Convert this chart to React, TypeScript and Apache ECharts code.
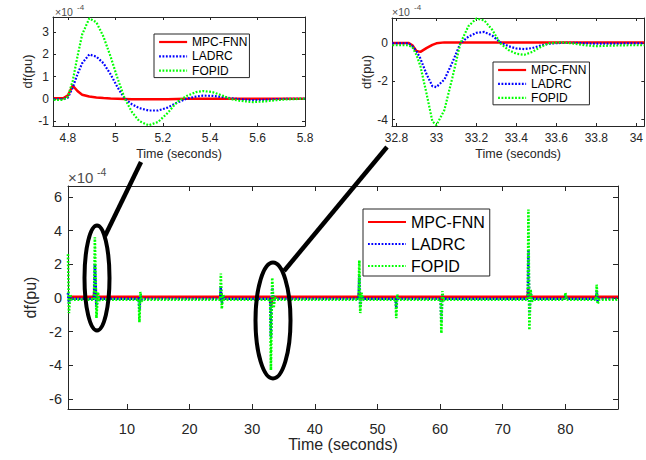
import React, { useEffect, useRef } from 'react';
import * as echarts from 'echarts';

// ---------- data (values in units of 1e-4 pu) ----------
const seriesNames = ['MPC-FNN', 'LADRC', 'FOPID'];
const xAxisTitle = 'Time (seconds)';
const yAxisTitle = 'df(pu)';
const scaleLabel = '×10';
const scaleExp = '-4';

// main plot: whole run
const mainTime = [
  0.6, 0.75, 0.95, 1.2,
  4.75, 4.89, 5.14, 5.37, 5.58, 5.8,
  11.9, 12.0, 12.15, 12.35, 12.6,
  24.9, 25.0, 25.15, 25.35, 25.6,
  32.87, 32.99, 33.2, 33.43, 33.63, 33.9,
  47.0, 47.1, 47.25, 47.45, 47.7,
  52.9, 53.0, 53.15, 53.4,
  60.1, 60.2, 60.35, 60.55, 60.8,
  74.0, 74.1, 74.25, 74.45, 74.65, 74.9,
  79.9, 80.0, 80.2,
  84.9, 85.0, 85.15, 85.4,
  88.4,
];
const mainMpcFnn = [
  0.05, 0.05, 0.05, 0.05,
  0.05, 0.6, 0.0, 0.05, 0.05, 0.05,
  0.05, -0.1, 0.05, 0.05, 0.05,
  0.05, 0.3, 0.0, 0.05, 0.05,
  0.05, -0.45, 0.05, 0.05, 0.05, 0.05,
  0.05, 0.3, 0.0, 0.05, 0.05,
  0.05, -0.1, 0.05, 0.05,
  0.05, -0.2, 0.05, 0.05, 0.05,
  0.05, 0.5, 0.0, 0.05, 0.05, 0.05,
  0.05, 0.05, 0.05,
  0.05, 0.1, 0.05, 0.05,
  0.05,
];
const mainLadrc = [
  0.3, -0.35, 0.05, -0.05,
  -0.05, 2.0, -0.55, 0.15, -0.05, -0.05,
  -0.05, -0.7, 0.15, -0.1, -0.05,
  -0.05, 0.7, -0.3, 0.1, -0.05,
  -0.05, -2.3, 0.6, -0.3, 0.03, -0.05,
  -0.05, 1.3, -0.5, 0.15, -0.05,
  -0.05, -0.6, 0.1, -0.05,
  -0.05, -1.4, 0.2, -0.05, -0.05,
  -0.05, 2.8, -0.9, 0.3, -0.1, -0.05,
  -0.05, 0.15, -0.05,
  -0.05, 0.4, -0.2, -0.05,
  -0.05,
];
const mainFopid = [
  2.6, -0.9, 0.2, -0.1,
  -0.1, 3.6, -1.2, 0.35, -0.15, -0.1,
  -0.1, -1.45, 0.35, -0.2, -0.1,
  -0.1, 1.45, -0.65, 0.2, -0.1,
  -0.1, -4.3, 1.2, -0.6, 0.05, -0.1,
  -0.1, 2.24, -0.9, 0.3, -0.1,
  -0.1, -1.2, 0.2, -0.1,
  -0.1, -2.1, 0.4, -0.15, -0.1,
  -0.1, 5.25, -1.9, 0.5, -0.2, -0.1,
  -0.1, 0.3, -0.1,
  -0.1, 0.8, -0.36, -0.1,
  -0.1,
];

// zoom 1: around t = 5 s
const zoom1Time = [
  4.74, 4.78, 4.8, 4.82, 4.84, 4.86, 4.89, 4.92, 4.95, 4.98,
  5.01, 5.04, 5.07, 5.1, 5.14, 5.18, 5.22, 5.26, 5.3, 5.34,
  5.37, 5.41, 5.45, 5.49, 5.53, 5.58, 5.63, 5.68, 5.74, 5.8,
];
const zoom1MpcFnn = [
  0.02, 0.02, 0.15, 0.6, 0.35, 0.18, 0.1, 0.06, 0.03, 0.01,
  0.0, -0.01, -0.02, -0.02, -0.02, -0.02, -0.02, -0.01, 0.0, 0.0,
  0.0, 0.0, 0.0, 0.0, 0.0, 0.0, 0.0, 0.0, 0.0, 0.0,
];
const zoom1Ladrc = [
  -0.02, -0.02, 0.05, 0.5, 1.1, 1.6, 2.0, 1.9, 1.6, 1.1,
  0.5, 0.0, -0.25, -0.42, -0.53, -0.53, -0.4, -0.18, 0.0, 0.1,
  0.14, 0.13, 0.08, 0.02, -0.03, -0.06, -0.05, -0.02, 0.0, 0.0,
];
const zoom1Fopid = [
  -0.05, -0.05, 0.1, 0.8, 1.9, 2.9, 3.63, 3.45, 2.8, 1.9,
  0.9, 0.0, -0.6, -1.0, -1.2, -1.05, -0.65, -0.15, 0.12, 0.3,
  0.35, 0.3, 0.15, -0.02, -0.1, -0.15, -0.12, -0.06, -0.02, 0.0,
];

// zoom 2: around t = 33 s
const zoom2Time = [
  32.78, 32.82, 32.86, 32.88, 32.9, 32.92, 32.95, 32.98, 33.0, 33.04,
  33.08, 33.12, 33.16, 33.2, 33.24, 33.28, 33.32, 33.36, 33.4, 33.44,
  33.48, 33.52, 33.56, 33.62, 33.68, 33.74, 33.8, 33.88, 33.96, 34.04,
];
const zoom2MpcFnn = [
  0.02, 0.02, 0.02, -0.1, -0.4, -0.45, -0.25, -0.08, 0.0, 0.05,
  0.05, 0.05, 0.05, 0.05, 0.05, 0.05, 0.05, 0.05, 0.05, 0.05,
  0.05, 0.05, 0.05, 0.05, 0.05, 0.05, 0.05, 0.05, 0.05, 0.05,
];
const zoom2Ladrc = [
  0.0, 0.0, 0.0, -0.15, -0.4, -0.8, -1.6, -2.25, -2.3, -1.9,
  -1.0, 0.0, 0.35, 0.55, 0.6, 0.4, 0.05, -0.15, -0.27, -0.3,
  -0.25, -0.12, -0.02, 0.02, 0.03, 0.0, -0.02, -0.02, 0.0, 0.0,
];
const zoom2Fopid = [
  -0.1, -0.1, -0.1, -0.2, -0.6, -1.2, -2.6, -4.1, -4.3, -3.5,
  -1.8, 0.0, 0.9, 1.3, 1.2, 0.7, 0.0, -0.35, -0.55, -0.6,
  -0.45, -0.2, 0.0, 0.05, 0.0, -0.1, -0.15, -0.12, -0.1, -0.1,
];

// axis ranges and ticks
const mainXRange = [0.6, 88.4];
const mainYRange = [-6.6, 6.65];
const mainXTicks = [10, 20, 30, 40, 50, 60, 70, 80];
const mainYTicks = [-6, -4, -2, 0, 2, 4, 6];
const zoom1XRange = [4.737, 5.8];
const zoom1YRange = [-1.23, 3.69];
const zoom1XTicks = [4.8, 5, 5.2, 5.4, 5.6, 5.8];
const zoom1YTicks = [-1, 0, 1, 2, 3];
const zoom2XRange = [32.778, 34.04];
const zoom2YRange = [-4.34, 1.33];
const zoom2XTicks = [32.8, 33, 33.2, 33.4, 33.6, 33.8, 34];
const zoom2YTicks = [-4, -2, 0];

// ---------- styling ----------
const FONT = '"Liberation Sans", Arial, sans-serif';
const AX = '#262626';
const COLORS = ['#ff0000', '#0000ff', '#00ff00'];

function zip(t: number[], v: number[]) {
  return t.map((x, i) => [x, v[i]]);
}

type PanelCfg = {
  grid: any;
  xRange: number[];
  yRange: number[];
  xTicks: number[];
  yTicks: number[];
  tickFont: number;
  nameFont: number;
  yNameFont: number;
  xNameGap: number;
  yNameGap: number;
  xLabelMargin: number;
  yLabelMargin: number;
  tickLen: number;
};

function axesFor(cfg: PanelCfg, gi: number) {
  const common = { show: true, lineStyle: { color: AX, width: 1 } };
  const xBottom = {
    type: 'value', gridIndex: gi, position: 'bottom',
    min: cfg.xRange[0], max: cfg.xRange[1],
    axisLine: { ...common, onZero: false },
    axisTick: { show: true, inside: true, length: cfg.tickLen, customValues: cfg.xTicks, lineStyle: { color: AX } },
    axisLabel: { show: true, customValues: cfg.xTicks, fontSize: cfg.tickFont, fontFamily: FONT, color: AX, margin: cfg.xLabelMargin, hideOverlap: false },
    splitLine: { show: false },
    name: xAxisTitle, nameLocation: 'middle', nameGap: cfg.xNameGap,
    nameTextStyle: { fontSize: cfg.nameFont, fontFamily: FONT, color: AX },
  };
  const xTop = {
    type: 'value', gridIndex: gi, position: 'top',
    min: cfg.xRange[0], max: cfg.xRange[1],
    axisLine: { ...common, onZero: false },
    axisTick: { show: true, inside: true, length: cfg.tickLen, customValues: cfg.xTicks, lineStyle: { color: AX } },
    axisLabel: { show: false },
    splitLine: { show: false },
  };
  const yLeft = {
    type: 'value', gridIndex: gi, position: 'left',
    min: cfg.yRange[0], max: cfg.yRange[1],
    axisLine: { ...common, onZero: false },
    axisTick: { show: true, inside: true, length: cfg.tickLen, customValues: cfg.yTicks, lineStyle: { color: AX } },
    axisLabel: { show: true, customValues: cfg.yTicks, fontSize: cfg.tickFont, fontFamily: FONT, color: AX, margin: cfg.yLabelMargin, hideOverlap: false },
    splitLine: { show: false },
    name: yAxisTitle, nameLocation: 'middle', nameGap: cfg.yNameGap,
    nameTextStyle: { fontSize: cfg.yNameFont, fontFamily: FONT, color: AX },
  };
  const yRight = {
    type: 'value', gridIndex: gi, position: 'right',
    min: cfg.yRange[0], max: cfg.yRange[1],
    axisLine: { ...common, onZero: false },
    axisTick: { show: true, inside: true, length: cfg.tickLen, customValues: cfg.yTicks, lineStyle: { color: AX } },
    axisLabel: { show: false },
    splitLine: { show: false },
  };
  return { x: [xBottom, xTop], y: [yLeft, yRight] };
}

function seriesFor(time: number[], vals: number[][], axisIdx: number, widths: number[]) {
  return vals.map((v, k) => ({
    type: 'line',
    name: seriesNames[k],
    xAxisIndex: axisIdx,
    yAxisIndex: axisIdx,
    data: zip(time, v),
    symbol: 'none',
    showSymbol: false,
    smooth: false,
    clip: true,
    silent: true,
    lineStyle: {
      color: COLORS[k],
      width: widths[k],
      type: k === 0 ? 'solid' : [1.8, 1.6],
      cap: 'butt',
    },
    itemStyle: { color: COLORS[k] },
    z: 2 + k,
  }));
}

export default function App() {
  const ref = useRef<HTMLDivElement>(null);

  useEffect(() => {
    if (!ref.current) return;
    const chart = echarts.init(ref.current, undefined, { renderer: 'svg' });

    const mainCfg: PanelCfg = {
      grid: { left: 68, top: 186, width: 550, height: 223 },
      xRange: mainXRange, yRange: mainYRange, xTicks: mainXTicks, yTicks: mainYTicks,
      tickFont: 14.5, nameFont: 16, yNameFont: 16, xNameGap: 25, yNameGap: 22,
      xLabelMargin: 12, yLabelMargin: 6, tickLen: 5,
    };
    const z1Cfg: PanelCfg = {
      grid: { left: 53, top: 17, width: 252, height: 109 },
      xRange: zoom1XRange, yRange: zoom1YRange, xTicks: zoom1XTicks, yTicks: zoom1YTicks,
      tickFont: 12, nameFont: 12.5, yNameFont: 13, xNameGap: 21, yNameGap: 17,
      xLabelMargin: 6, yLabelMargin: 4, tickLen: 3,
    };
    const z2Cfg: PanelCfg = {
      grid: { left: 392, top: 18, width: 253, height: 108 },
      xRange: zoom2XRange, yRange: zoom2YRange, xTicks: zoom2XTicks, yTicks: zoom2YTicks,
      tickFont: 12, nameFont: 12.5, yNameFont: 13, xNameGap: 21, yNameGap: 16,
      xLabelMargin: 6, yLabelMargin: 4, tickLen: 3,
    };
    const cfgs = [mainCfg, z1Cfg, z2Cfg];
    const xAxes: any[] = [];
    const yAxes: any[] = [];
    cfgs.forEach((c, gi) => {
      const a = axesFor(c, gi);
      xAxes.push(...a.x);
      yAxes.push(...a.y);
    });

    const series = [
      ...seriesFor(mainTime, [mainMpcFnn, mainLadrc, mainFopid], 0, [3, 2.6, 2.6]),
      ...seriesFor(zoom1Time, [zoom1MpcFnn, zoom1Ladrc, zoom1Fopid], 2, [2.5, 2.2, 2.2]),
      ...seriesFor(zoom2Time, [zoom2MpcFnn, zoom2Ladrc, zoom2Fopid], 4, [2.5, 2.2, 2.2]),
    ];

    const legendBase = {
      orient: 'vertical',
      data: seriesNames,
      borderColor: AX,
      borderWidth: 1,
      borderRadius: 0,
      backgroundColor: '#ffffff',
      selectedMode: false,
      align: 'left',
      itemStyle: { opacity: 0, borderWidth: 0 },
    };

    const sup = (x: number, y: number, fs: number, xs: number, ys: number, fss: number) => [
      { type: 'text', x, y, style: { text: scaleLabel, fontSize: fs, fontFamily: FONT, fill: '#4d4d4d' }, z: 50 },
      { type: 'text', x: xs, y: ys, style: { text: scaleExp, fontSize: fss, fontFamily: FONT, fill: '#4d4d4d' }, z: 50 },
    ];

    chart.setOption({
      animation: false,
      backgroundColor: '#ffffff',
      grid: cfgs.map((c) => ({ ...c.grid, containLabel: false })),
      xAxis: xAxes,
      yAxis: yAxes,
      legend: [
        {
          ...legendBase, left: 363, top: 209, padding: [5, 5, 2, 4],
          itemWidth: 38, itemHeight: 16, itemGap: 6,
          textStyle: { fontSize: 16, fontFamily: FONT, color: '#000' },
        },
        {
          ...legendBase, left: 154, top: 34, padding: [2, 2, 1, 4],
          itemWidth: 28, itemHeight: 13, itemGap: 2.3,
          lineStyle: { width: 2.2 },
          textStyle: { fontSize: 12, fontFamily: FONT, color: '#000' },
        },
        {
          ...legendBase, left: 493, top: 62, padding: [2, 3, 1, 4],
          itemWidth: 28, itemHeight: 13, itemGap: 1.9,
          lineStyle: { width: 2.2 },
          textStyle: { fontSize: 12, fontFamily: FONT, color: '#000' },
        },
      ],
      series,
      graphic: [
        ...sup(55, 6, 10.5, 77, 3, 8),
        ...sup(392, 6, 10.5, 414, 3, 8),
        ...sup(68, 170, 15, 97, 166, 10.5),
        {
          type: 'ellipse', z: 100,
          shape: { cx: 97, cy: 278, rx: 12.5, ry: 52.5 },
          style: { fill: 'transparent', stroke: '#000', lineWidth: 4 },
        },
        {
          type: 'ellipse', z: 100,
          shape: { cx: 273, cy: 320.5, rx: 17.5, ry: 58 },
          style: { fill: 'transparent', stroke: '#000', lineWidth: 4 },
        },
        {
          type: 'line', z: 100,
          shape: { x1: 105, y1: 236, x2: 141, y2: 162 },
          style: { stroke: '#000', lineWidth: 4.5 },
        },
        {
          type: 'line', z: 100,
          shape: { x1: 284, y1: 271, x2: 387, y2: 147 },
          style: { stroke: '#000', lineWidth: 4.5 },
        },
      ],
    });

    return () => chart.dispose();
  }, []);

  return (
    <div
      ref={ref}
      style={{ position: 'absolute', left: 0, top: 0, width: 646, height: 460, background: '#fff' }}
    />
  );
}
